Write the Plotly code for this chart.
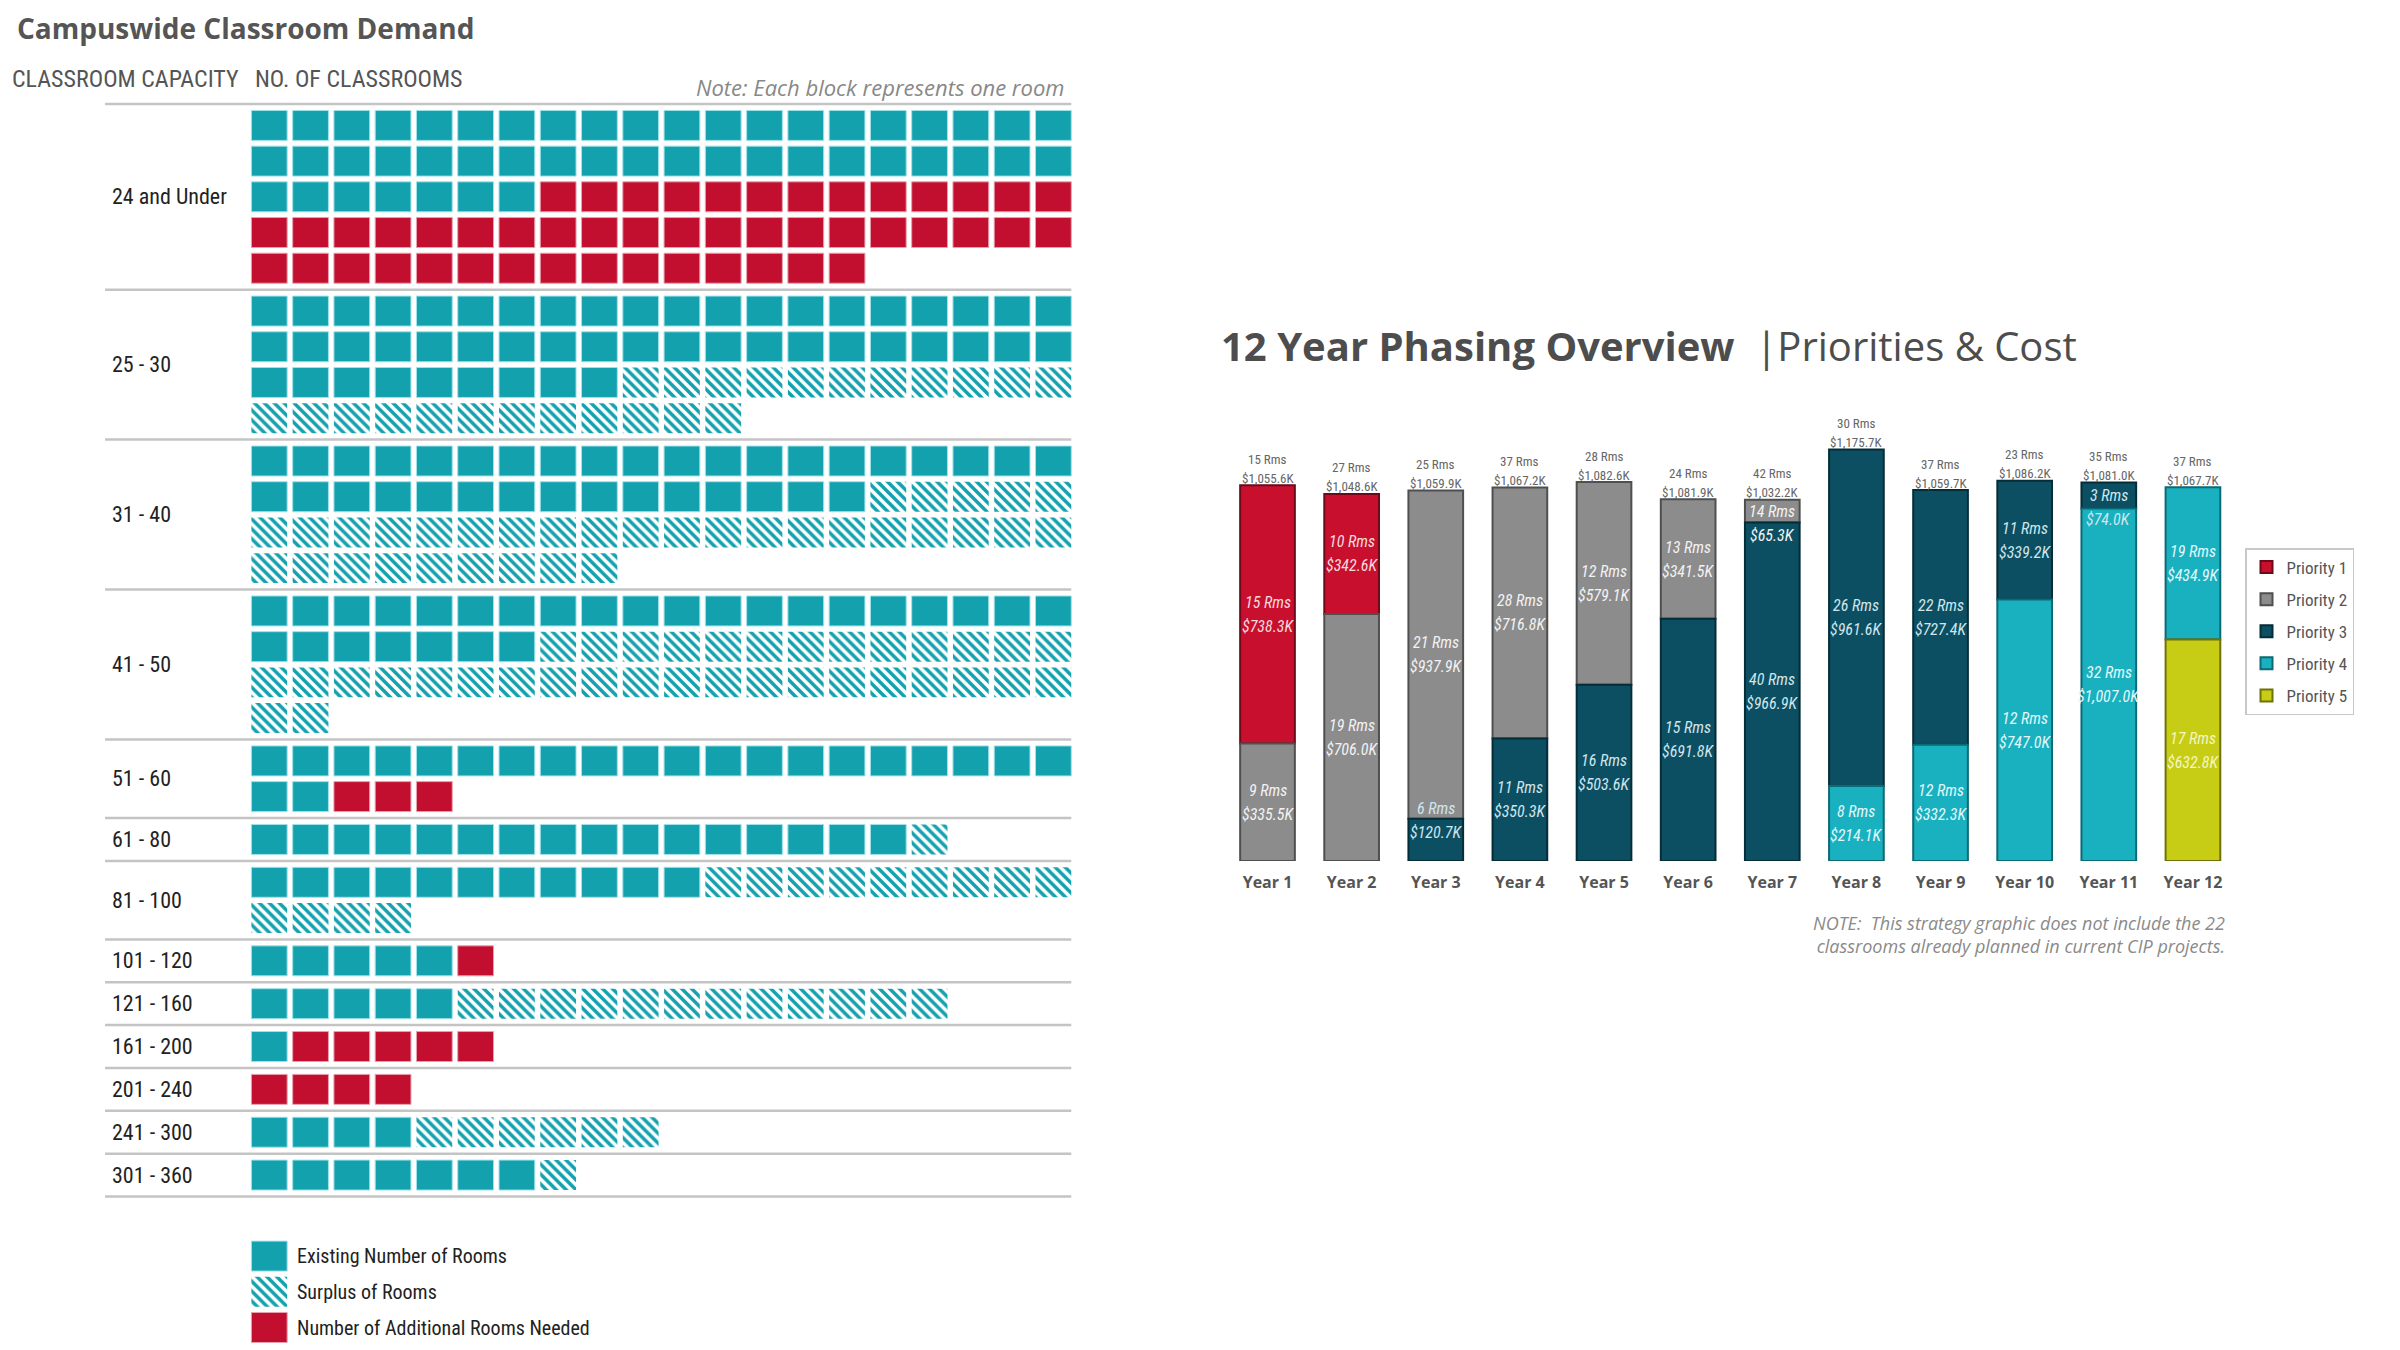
import math
import plotly.graph_objects as go

# ---------------- Data: left waffle ----------------
capacity = ["24 and Under", "25 - 30", "31 - 40", "41 - 50", "51 - 60", "61 - 80",
            "81 - 100", "101 - 120", "121 - 160", "161 - 200", "201 - 240",
            "241 - 300", "301 - 360"]
existing = [47, 49, 35, 27, 22, 16, 11, 5, 5, 1, 0, 4, 7]
surplus = [0, 23, 34, 35, 0, 1, 13, 0, 12, 0, 0, 6, 1]
needed = [48, 0, 0, 0, 3, 0, 0, 1, 0, 5, 4, 0, 0]
waffle_legend = ["Existing Number of Rooms", "Surplus of Rooms", "Number of Additional Rooms Needed"]

# ---------------- Data: right stacked bars ----------------
years = ["Year %d" % i for i in range(1, 13)]
priorities = ["Priority 1", "Priority 2", "Priority 3", "Priority 4", "Priority 5"]
p1_cost = [738.3, 342.6, None, None, None, None, None, None, None, None, None, None]
p1_rooms = [15, 10, None, None, None, None, None, None, None, None, None, None]
p2_cost = [335.5, 706.0, 937.9, 716.8, 579.1, 341.5, 65.3, None, None, None, None, None]
p2_rooms = [9, 19, 21, 28, 12, 13, 14, None, None, None, None, None]
p3_cost = [None, None, 120.7, 350.3, 503.6, 691.8, 966.9, 961.6, 727.4, 339.2, 74.0, None]
p3_rooms = [None, None, 6, 11, 16, 15, 40, 26, 22, 11, 3, None]
p4_cost = [None, None, None, None, None, None, None, 214.1, 332.3, 747.0, 1007.0, 434.9]
p4_rooms = [None, None, None, None, None, None, None, 8, 12, 12, 32, 19]
p5_cost = [None, None, None, None, None, None, None, None, None, None, None, 632.8]
p5_rooms = [None, None, None, None, None, None, None, None, None, None, None, 17]
total_rooms = [15, 27, 25, 37, 28, 24, 42, 30, 37, 23, 35, 37]
total_cost_labels = ["$1,055.6K", "$1,048.6K", "$1,059.9K", "$1,067.2K", "$1,082.6K", "$1,081.9K",
                     "$1,032.2K", "$1,175.7K", "$1,059.7K", "$1,086.2K", "$1,081.0K", "$1,067.7K"]

# ---------------- Styles ----------------
TEAL = "#14a1ae"
RED = "#c20f2f"
OPEN = "Open Sans"
NARROW = "'Roboto Condensed', Roboto"
P_COLORS = ["#c8102e", "#8c8c8c", "#0c4f62", "#19b0c0", "#c7cc14"]
P_LINES = ["#6e0919", "#4f4f4f", "#052d38", "#0c6a75", "#6f7207"]
P_TEXT = ["#f7d9de", "#f2f2f2", "#cfe5ec", "#e2f8fa", "#f4f6c0"]


def nfont(size, color):
    return dict(family=NARROW, size=size, color=color)


COLS = 20
GAP = 0.2
BH = 0.84
BW = 0.867

fig = go.Figure()

# ---------------- Waffle layout computation ----------------
blocks = {"e": ([], []), "s": ([], []), "n": ([], [])}
line_x, line_y = [], []
annotations = []
cursor = 0.0
XL0, XL1 = -3.98, COLS - 1 + BW / 2
for cat, e, s, n in zip(capacity, existing, surplus, needed):
    seq = ["e"] * e + ["s"] * s + ["n"] * n
    rows = math.ceil(len(seq) / COLS)
    line_x += [XL0, XL1, None]
    line_y += [cursor, cursor, None]
    for i, kind in enumerate(seq):
        r, c = divmod(i, COLS)
        blocks[kind][0].append(c)
        blocks[kind][1].append(cursor + GAP / 2 + r + (1 - BH) / 2)
    annotations.append(dict(x=-3.86, y=cursor + (rows + GAP) / 2, xref="x", yref="y",
                            text=cat, showarrow=False, xanchor="left", yanchor="middle",
                            font=nfont(22, "#222")))
    cursor += rows + GAP
line_x += [XL0, XL1, None]
line_y += [cursor, cursor, None]

fig.add_trace(go.Scatter(x=line_x, y=line_y, mode="lines", line=dict(color="#c4c4c4", width=2.5),
                         xaxis="x", yaxis="y", showlegend=False, hoverinfo="skip"))

styles = {
    "e": dict(color=TEAL, line=dict(color="#9fe3ea", width=1)),
    "s": dict(color="white", line=dict(color="white", width=0),
              pattern=dict(shape="\\", fgcolor=TEAL, bgcolor="white", size=7, solidity=0.5,
                           fillmode="replace")),
    "n": dict(color=RED, line=dict(color="#e8a0ad", width=1)),
}
for kind in ["e", "s", "n"]:
    xs, bs = blocks[kind]
    fig.add_trace(go.Bar(x=xs, y=[BH] * len(xs), base=bs, width=BW, marker=styles[kind],
                         xaxis="x", yaxis="y", showlegend=False, hoverinfo="skip"))

# pseudo legend below waffle
leg_start = cursor + 1.17
for i, (kind, label) in enumerate(zip(["e", "s", "n"], waffle_legend)):
    fig.add_trace(go.Bar(x=[0], y=[BH], base=[leg_start + i + (1 - BH) / 2], width=BW,
                         marker=styles[kind], xaxis="x", yaxis="y", showlegend=False,
                         hoverinfo="skip"))
    annotations.append(dict(x=0.62, y=leg_start + i + 0.5, xref="x", yref="y", text=label,
                            showarrow=False, xanchor="left", yanchor="middle",
                            font=nfont(20, "#222")))

# ---------------- Stacked bars ----------------
costs = [p1_cost, p2_cost, p3_cost, p4_cost, p5_cost]
rooms = [p1_rooms, p2_rooms, p3_rooms, p4_rooms, p5_rooms]
PX_PER_K = 0.3502
for pi in range(5):
    xs, ys, bs = [], [], []
    for yi in range(12):
        v = costs[pi][yi]
        if v is None:
            continue
        base = sum(costs[q][yi] for q in range(pi + 1, 5) if costs[q][yi] is not None)
        xs.append(years[yi]); ys.append(v); bs.append(base)
        shift = 0
        if v * PX_PER_K < 45:
            shift = 19 if base == 0 else -12
        for txt, off in (("%d Rms" % rooms[pi][yi], 12), ("$" + format(v, ",.1f") + "K", -12)):
            annotations.append(dict(x=years[yi], y=base + v / 2, xref="x2", yref="y2",
                                    text="<i>%s</i>" % txt, showarrow=False, yshift=shift + off,
                                    yanchor="middle", font=nfont(16, P_TEXT[pi])))
    fig.add_trace(go.Bar(x=xs, y=ys, base=bs, width=0.65, name=priorities[pi],
                         marker=dict(color=P_COLORS[pi], line=dict(color=P_LINES[pi], width=2)),
                         xaxis="x2", yaxis="y2", legendgroup=priorities[pi], hoverinfo="skip"))

for yi in range(12):
    tot = sum(c[yi] for c in costs if c[yi] is not None)
    for txt, off in (("%d Rms" % total_rooms[yi], 26), (total_cost_labels[yi], 7)):
        annotations.append(dict(x=years[yi], y=tot, xref="x2", yref="y2", yanchor="middle",
                                text=txt, showarrow=False, yshift=off, font=nfont(13, "#666")))

# ---------------- Texts ----------------
W, H = 2400, 1350
annotations += [
    dict(x=15 / W, y=1 - 28 / H, xref="paper", yref="paper", xanchor="left", yanchor="middle",
         text="<b>Campuswide Classroom Demand</b>", showarrow=False,
         font=dict(family=OPEN, size=28, color="#555")),
    dict(x=10 / W, y=1 - 79 / H, xref="paper", yref="paper", xanchor="left", yanchor="middle",
         text="CLASSROOM CAPACITY", showarrow=False, font=nfont(24, "#555")),
    dict(x=253 / W, y=1 - 79 / H, xref="paper", yref="paper", xanchor="left", yanchor="middle",
         text="NO. OF CLASSROOMS", showarrow=False, font=nfont(24, "#555")),
    dict(x=1067 / W, y=1 - 87 / H, xref="paper", yref="paper", xanchor="right", yanchor="middle",
         text="<i>Note: Each block represents one room</i>", showarrow=False,
         font=dict(family=OPEN, size=22, color="#888")),
    dict(x=1219 / W, y=1 - 346 / H, xref="paper", yref="paper", xanchor="left", yanchor="middle",
         text="<b>12 Year Phasing Overview</b> &nbsp;|Priorities &amp; Cost", showarrow=False,
         font=dict(family=OPEN, size=40, color="#4d4d4d")),
    dict(x=2227 / W, y=1 - 935 / H, xref="paper", yref="paper", xanchor="right", yanchor="middle",
         align="right",
         text="<i>NOTE:&nbsp; This strategy graphic does not include the 22<br>classrooms already planned in current CIP projects.</i>",
         showarrow=False, font=dict(family=OPEN, size=18, color="#8a8a8a")),
]

fig.update_layout(
    width=W, height=H, margin=dict(l=0, r=0, t=0, b=0),
    paper_bgcolor="white", plot_bgcolor="white", barmode="overlay",
    xaxis=dict(domain=[0, 0.45], range=[-6.525, 19.645], visible=False, fixedrange=True),
    yaxis=dict(domain=[0, 1], range=[34.90, -2.913], visible=False, fixedrange=True),
    xaxis2=dict(domain=[0.5106, 0.93125], anchor="y2", type="category", categoryorder="array",
                categoryarray=years, range=[-0.5, 11.5], showgrid=False, showline=False,
                ticks="", tickvals=years, ticktext=["<b>%s</b>" % y for y in years],
                tickfont=dict(family=OPEN, size=16, color="#555"), ticklabelstandoff=10),
    yaxis2=dict(domain=[0.3622, 0.6993], anchor="x2", range=[0, 1300], visible=False),
    legend=dict(x=2245 / W, y=1 - 548 / H, xanchor="left", yanchor="top",
                bgcolor="white", bordercolor="#c8c8c8", borderwidth=1.5, itemwidth=30,
                font=nfont(17, "#555"), tracegroupgap=7, traceorder="grouped"),
    annotations=annotations,
    showlegend=True,
)

fig.write_html("out.html")
